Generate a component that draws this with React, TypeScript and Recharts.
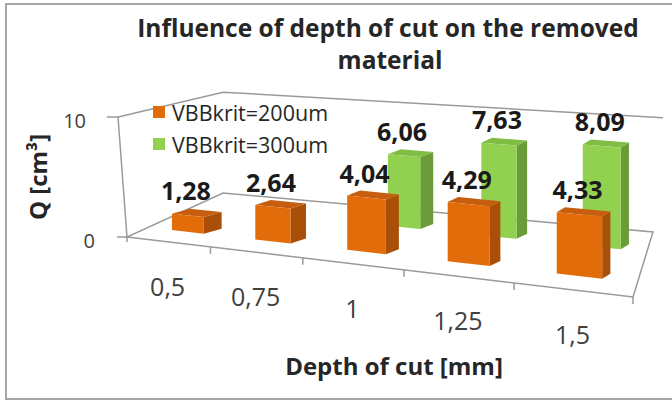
import React from "react";
import { BarChart, Bar, XAxis, YAxis, ReferenceArea, Legend } from "recharts";

// data
const depths = ["0,5", "0,75", "1", "1,25", "1,5"];
const vb200 = [1.28, 2.64, 4.04, 4.29, 4.33];
const vb300: (number | null)[] = [null, null, 6.06, 7.63, 8.09];
const seriesNames = ["VBBkrit=200um", "VBBkrit=300um"];
const yTicks = [0, 10];

const data = depths.map((d, i) => ({
  pos: i + 0.5,
  depth: d,
  v200: vb200[i],
  v300: vb300[i],
}));

const FONT = "'Open Sans', sans-serif";
const W = 672;
const H = 401;
// plot rectangle (front floor edge at value 0, left wall at value 10)
const L = 127;
const R = 633;
const T = 117;
const B = 237;
const Y_AXIS_W = 60;
const X_AXIS_H = 30;

const ORANGE = { front: "#E36C0A", top: "#C75D0E", side: "#A94F08" };
const GREEN = { front: "#92D050", top: "#80BD45", side: "#6A9D38" };

// fake 3D projection of the flat plot coordinates (Excel style perspective)
const PERSP = 0.28;
const SLOPE = (297 - 237) / (633 - 127);
function proj(u: number, d: number, h: number): [number, number] {
  const t = (u - L) / (R - L);
  const g = (t * (1 + PERSP * t)) / (1 + PERSP);
  const fx = L + g * (R - L);
  const fy = B + SLOPE * (fx - L);
  const dx = 96 - 76 * g;
  const dy = -44 - 21 * g;
  const f = (1 + 0.14 * g) * (1.12 - 0.28 * d);
  return [fx + d * dx, fy + d * dy - h * f];
}

const ROWS: Record<string, { d: number; nudge: number; c: typeof ORANGE; key: string }> = {
  front: { d: 0.22, nudge: 0, c: ORANGE, key: "v200" },
  back: { d: 0.68, nudge: 9, c: GREEN, key: "v300" },
};

const pts = (a: [number, number][]) => a.map((p) => p.join(",")).join(" ");

function Box3D(props: any) {
  const { x, width, height, payload, row } = props;
  const cfg = ROWS[row];
  const v = payload ? payload[cfg.key] : null;
  if (v == null || !height || isNaN(height)) return null;
  const p = (u: number, h: number): [number, number] => {
    const [a, b] = proj(u, cfg.d, h);
    return [a + cfg.nudge, b];
  };
  const bl = p(x, 0);
  const br = p(x + width, 0);
  const tl = p(x, height);
  const tr = p(x + width, height);
  const g = (x + width / 2 - L) / (R - L);
  const bx = 19 - 12 * g;
  const by = -5;
  const sh = (q: [number, number]): [number, number] => [q[0] + bx, q[1] + by];
  const label = v.toFixed(2).replace(".", ",");
  const cx = (tl[0] + tr[0]) / 2;
  const cy = (tl[1] + tr[1]) / 2;
  return (
    <g>
      <polygon points={pts([br, sh(br), sh(tr), tr])} fill={cfg.c.side} />
      <polygon points={pts([tl, tr, sh(tr), sh(tl)])} fill={cfg.c.top} />
      <polygon points={pts([bl, br, tr, tl])} fill={cfg.c.front} />
      <text
        x={cx - 2}
        y={cy - 25}
        textAnchor="middle"
        dominantBaseline="central"
        fontFamily={FONT}
        fontWeight="bold"
        fontSize={25}
        fill="#1a1a1a"
      >
        {label}
      </text>
    </g>
  );
}

function Frame(props: any) {
  const { x, y, width, height } = props;
  const l = x;
  const r = x + width;
  const h = height;
  const top = y;
  const b = y + height;
  const f0 = proj(l, 0, 0);
  const f1 = proj(r, 0, 0);
  const k0 = proj(l, 1, 0);
  const k1 = proj(r, 1, 0);
  const w0 = proj(l, 1, h);
  const w1 = proj(r, 1, h);
  const w1e: [number, number] = [
    w1[0] + 10,
    w1[1] + ((w1[1] - w0[1]) / (w1[0] - w0[0])) * 10,
  ];
  const axTop: [number, number] = [l - 9, top];
  const stroke = "#9a9a9a";
  const ticks = [0, 1, 2, 3, 4, 5].map((k) => proj(l + (k * (r - l)) / 5, 0, 0));
  return (
    <g fill="none" stroke={stroke} strokeWidth={1.5}>
      <polygon points={pts([f0, f1, k1, k0])} />
      <polyline points={pts([axTop, w0, w1e])} />
      <line x1={axTop[0]} y1={axTop[1]} x2={l} y2={b} />
      <line x1={axTop[0] - 11} y1={top} x2={axTop[0]} y2={top} />
      <line x1={l - 10} y1={b} x2={l} y2={b} />
      {ticks.map((q, i) => (
        <line key={i} x1={q[0]} y1={q[1]} x2={q[0]} y2={q[1] + (i === 0 ? 5 : 7)} />
      ))}
    </g>
  );
}

function DepthTick(props: any) {
  const { x, payload } = props;
  const i = Math.floor(payload.value);
  const [px, py] = proj(x, 0, 0);
  return (
    <text
      x={px}
      y={py + 44}
      textAnchor="middle"
      dominantBaseline="central"
      fontFamily={FONT}
      fontSize={25}
      fill="#404040"
    >
      {depths[i]}
    </text>
  );
}

function QTick(props: any) {
  const { y, payload } = props;
  const v = payload.value;
  const ax = L - 9 * (v / 10);
  return (
    <text
      x={ax - 32}
      y={y + 3}
      textAnchor="end"
      dominantBaseline="central"
      fontFamily={FONT}
      fontSize={20}
      fill="#404040"
    >
      {v}
    </text>
  );
}

function LegendBox() {
  const colors = [ORANGE.front, GREEN.front];
  return (
    <div style={{ fontFamily: FONT, fontSize: 21.5, color: "#262626" }}>
      {seriesNames.map((n, i) => (
        <div key={n} style={{ display: "flex", alignItems: "center", height: 32 }}>
          <span
            style={{
              width: 12,
              height: 12,
              background: colors[i],
              marginRight: 7,
              display: "inline-block",
            }}
          />
          {n}
        </div>
      ))}
    </div>
  );
}

export default function App() {
  return (
    <div
      style={{
        position: "absolute",
        left: 0,
        top: 0,
        width: W,
        height: H,
        background: "#fff",
        overflow: "hidden",
      }}
    >
      <div
        style={{
          position: "absolute",
          left: 5,
          top: 3,
          width: 680,
          height: 393,
          border: "2px solid #a6a6a6",
        }}
      />
      <svg
        width={W}
        height={H}
        style={{ position: "absolute", left: 0, top: 0, pointerEvents: "none" }}
      >
        <g fontFamily={FONT} fontWeight="bold" fill="#262626" textAnchor="middle">
          <text x={388} y={27} fontSize={24.5} dominantBaseline="central">
            Influence of depth of cut on the removed
          </text>
          <text x={390} y={59} fontSize={24.5} dominantBaseline="central">
            material
          </text>
          <text x={394} y={365} fontSize={24} dominantBaseline="central">
            Depth of cut [mm]
          </text>
          <text
            x={37}
            y={177}
            fontSize={24}
            dominantBaseline="central"
            transform="rotate(-90 37 177)"
          >
            Q [cm³]
          </text>
        </g>
      </svg>
      <div style={{ position: "absolute", left: 0, top: 0 }}>
        <BarChart
          width={W}
          height={H}
          data={data}
          margin={{ top: T, right: W - R, left: L - Y_AXIS_W, bottom: H - B - X_AXIS_H }}
        >
          <XAxis
            xAxisId="front"
            type="number"
            dataKey="pos"
            domain={[0, 5]}
            ticks={[0.5, 1.5, 2.5, 3.5, 4.5]}
            interval={0}
            axisLine={false}
            tickLine={false}
            tick={<DepthTick />}
            height={X_AXIS_H}
          />
          <XAxis xAxisId="back" type="number" dataKey="pos" domain={[0, 5]} hide />
          <YAxis
            type="number"
            domain={[0, 10]}
            ticks={yTicks}
            axisLine={false}
            tickLine={false}
            tick={<QTick />}
            width={Y_AXIS_W}
          />
          <ReferenceArea
            xAxisId="front"
            x1={0}
            x2={5}
            y1={0}
            y2={10}
            ifOverflow="visible"
            shape={(p: any) => <Frame {...p} />}
          />
          <Legend
            layout="vertical"
            align="center"
            verticalAlign="middle"
            wrapperStyle={{ left: 153, top: 96, width: 220 }}
            content={() => <LegendBox />}
          />
          <Bar
            xAxisId="back"
            dataKey="v300"
            name={seriesNames[1]}
            barSize={36}
            isAnimationActive={false}
            shape={(p: any) => <Box3D {...p} row="back" />}
          />
          <Bar
            xAxisId="front"
            dataKey="v200"
            name={seriesNames[0]}
            barSize={40}
            isAnimationActive={false}
            shape={(p: any) => <Box3D {...p} row="front" />}
          />
        </BarChart>
      </div>
    </div>
  );
}
